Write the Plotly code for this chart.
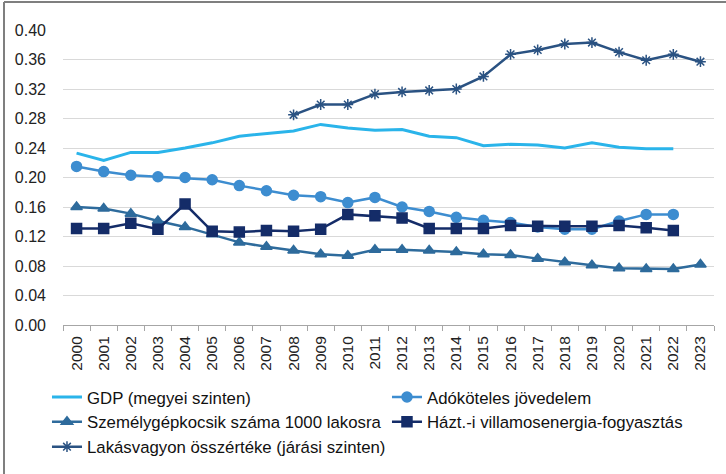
import plotly.graph_objects as go

years = [str(y) for y in range(2000, 2024)]

gdp = [0.233, 0.223, 0.234, 0.234, 0.240, 0.247, 0.256, 0.260, 0.263, 0.272, 0.267,
       0.264, 0.265, 0.256, 0.254, 0.243, 0.245, 0.244, 0.240, 0.247, 0.241, 0.239, 0.239, None]
ado = [0.215, 0.208, 0.203, 0.201, 0.200, 0.197, 0.189, 0.182, 0.176, 0.174, 0.166,
       0.173, 0.160, 0.154, 0.146, 0.142, 0.139, 0.133, 0.130, 0.130, 0.141, 0.150, 0.150, None]
szgk = [0.160, 0.158, 0.151, 0.141, 0.133, 0.123, 0.112, 0.106, 0.101, 0.096, 0.094,
        0.102, 0.102, 0.101, 0.099, 0.096, 0.095, 0.090, 0.085, 0.081, 0.077, 0.076, 0.076, 0.082]
hazt = [0.131, 0.131, 0.138, 0.130, 0.164, 0.127, 0.126, 0.128, 0.127, 0.130, 0.150,
        0.148, 0.145, 0.131, 0.131, 0.131, 0.135, 0.134, 0.134, 0.134, 0.135, 0.132, 0.128, None]
lakas = [None] * 8 + [0.285, 0.299, 0.299, 0.313, 0.316, 0.318, 0.320, 0.337, 0.367, 0.373,
                      0.381, 0.383, 0.370, 0.359, 0.367, 0.357]

y_ticks = [0.00, 0.04, 0.08, 0.12, 0.16, 0.20, 0.24, 0.28, 0.32, 0.36, 0.40]

series = [
    ("GDP (megyei szinten)", gdp, "#2AB4EA", None, 3),
    ("Adóköteles jövedelem", ado, "#3D8DD0", "circle", 2.5),
    ("Személygépkocsik száma 1000 lakosra", szgk, "#2E6B9C", "triangle-up", 2.5),
    ("Házt.-i villamosenergia-fogyasztás", hazt, "#142C68", "square", 2.5),
    ("Lakásvagyon összértéke (járási szinten)", lakas, "#2A5282", "asterisk-open", 2.5),
]

fig = go.Figure()
for name, vals, color, sym, w in series:
    if sym is None:
        fig.add_trace(go.Scatter(x=years, y=vals, name=name, mode="lines",
                                 line=dict(color=color, width=w)))
    else:
        fig.add_trace(go.Scatter(x=years, y=vals, name=name, mode="lines+markers",
                                 line=dict(color=color, width=w),
                                 marker=dict(symbol=sym, size=10 if sym != "asterisk-open" else 9,
                                             color=color, line=dict(color=color, width=1.5))))

# outer frame (top and left edges), in paper fractions of the 651x295 plot area
frame_left = -59 / 651
frame_top = 1 + 28 / 295
frame_right = 1 + 12 / 651
frame_bottom = -149 / 295

font_family = "Liberation Sans, Arial, sans-serif"
fig.update_layout(
    width=726, height=474,
    margin=dict(l=63, r=12, t=30, b=149, autoexpand=False),
    paper_bgcolor="white", plot_bgcolor="white",
    font=dict(family=font_family, size=15, color="#222222"),
    showlegend=True,
    legend=dict(orientation="h", x=-0.0246, y=-0.185, xanchor="left", yanchor="top",
                entrywidth=295, entrywidthmode="pixels", font=dict(size=16.8, color="#111111"),
                tracegroupgap=0, itemwidth=30),
    xaxis=dict(type="category", range=[-0.5, 23.5], tickangle=-90, tickson="boundaries",
               ticks="outside", ticklen=5, tickcolor="#A6A6A6", showline=True,
               linecolor="#A6A6A6", linewidth=1, showgrid=False, ticklabelstandoff=4,
               tickfont=dict(size=15.5, color="#222222")),
    yaxis=dict(range=[0, 0.4], tickvals=y_ticks, tickformat=".2f", showgrid=True,
               gridcolor="#D9D9D9", gridwidth=1, zeroline=False, showline=False,
               ticks="", tickfont=dict(size=16, color="#222222"), ticklabelstandoff=16),
    shapes=[
        dict(type="line", xref="paper", yref="paper", layer="above",
             x0=frame_left, x1=frame_right, y0=frame_top, y1=frame_top,
             line=dict(color="#7F7F7F", width=2)),
        dict(type="line", xref="paper", yref="paper", layer="above",
             x0=frame_left, x1=frame_left, y0=frame_top, y1=frame_bottom,
             line=dict(color="#7F7F7F", width=2)),
    ],
)

fig.write_html("out.html", config={"displayModeBar": False},
               post_script="document.body.style.margin='0';")
